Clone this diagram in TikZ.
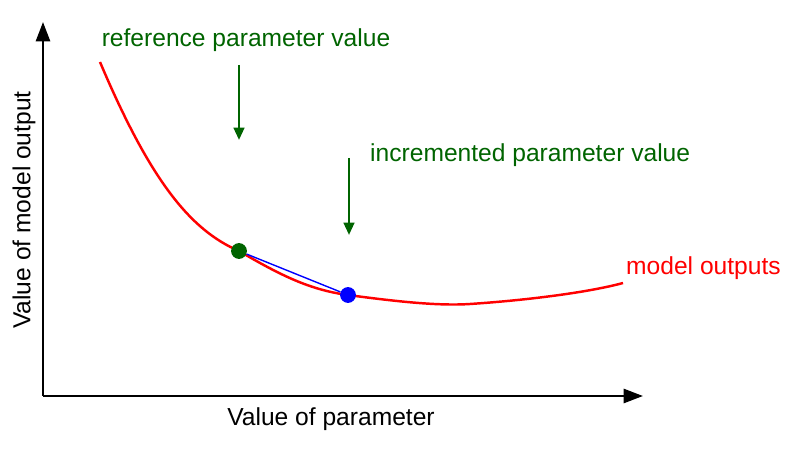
\documentclass[tikz,border=0pt]{standalone}
\usepackage{fontspec}
\setmainfont{Liberation Sans}
\usetikzlibrary{arrows.meta}
\definecolor{Darkgreen}{HTML}{006400}
\begin{document}
\begin{tikzpicture}
[x=0.02cm,y=-0.02cm,
    axis/.style={line width=1.4pt,-{Triangle[length=11pt,width=8pt]}},
    pointer/.style={Darkgreen,line width=1.4pt,-{Triangle[length=7pt,width=6pt]}},
    label/.style={font=\fontsize{14}{16}\selectfont},
    dot/.style={circle,inner sep=0pt,minimum size=9pt}]
\useasboundingbox (0,0) rectangle (795,449);
%% axes
\coordinate (origin) at (43,396);
\coordinate (ytop) at (43,22);
\coordinate (xend) at (643,396);
\draw[axis] (origin) -- (ytop);
\draw[axis] (origin) -- (xend);
\node[label] (xlab) at (331,419) {Value of parameter};
\node[label,rotate=90] (ylab) at (24,210) {Value of model output};
%% model curve
\draw[red,line width=1.4pt] (100,62) .. controls (150,180) and (190,230) .. (239,251)
  .. controls (280,275) and (310,290) .. (348,295)
  .. controls (400,302) and (440,306) .. (470,304)
  .. controls (530,300) and (590,292) .. (623,283);
\node[label,red,anchor=west] (outs) at (620,268) {model outputs};
%% points
\node[dot,fill=Darkgreen] (ref) at (239,251) {};
\node[dot,fill=blue] (inc) at (348,295) {};
\draw[blue,line width=0.8pt] (ref) -- (inc);
%% labels with pointers
\node[label,Darkgreen] (reflab) at (246,40) {reference parameter value};
\coordinate (reftop) at (239,65);
\coordinate (refbot) at (239,140);
\draw[pointer] (reftop) -- (refbot);
\node[label,Darkgreen,anchor=west] (inclab) at (364,155) {incremented parameter value};
\coordinate (inctop) at (349,158);
\coordinate (incbot) at (349,235);
\draw[pointer] (inctop) -- (incbot);
\end{tikzpicture}
\end{document}
